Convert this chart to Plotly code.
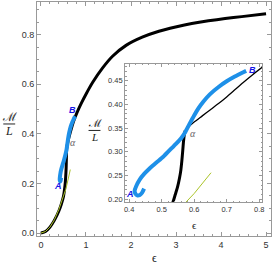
import plotly.graph_objects as go

# main black curve
main_x = [0, 0.1, 0.2, 0.3, 0.4, 0.45, 0.5, 0.534, 0.549, 0.559, 0.565, 0.57, 0.585, 0.6, 0.65, 0.7, 0.75, 0.8, 0.9, 1.0, 1.15, 1.37, 1.59, 1.89, 2.25, 2.62, 2.99, 3.35, 3.72, 4.09, 4.46, 5.0]
main_y = [0, 0.006, 0.024, 0.052, 0.09, 0.115, 0.148, 0.192, 0.226, 0.261, 0.303, 0.338, 0.356, 0.37, 0.405, 0.437, 0.463, 0.486, 0.525, 0.56, 0.608, 0.666, 0.713, 0.757, 0.79, 0.814, 0.831, 0.845, 0.856, 0.865, 0.873, 0.885]

# inset black: thick branch and thin branch
thick_x = [0.53, 0.534, 0.542, 0.549, 0.555, 0.559, 0.562, 0.565, 0.567, 0.57, 0.573]
thick_y = [0.185, 0.192, 0.21, 0.226, 0.245, 0.261, 0.28, 0.303, 0.32, 0.338, 0.345]
thin_x = [0.573, 0.585, 0.6, 0.625, 0.65, 0.675, 0.7, 0.725, 0.75, 0.78, 0.812]
thin_y = [0.345, 0.354, 0.363, 0.376, 0.389, 0.402, 0.416, 0.431, 0.446, 0.463, 0.48]

# blue curve (A -> B)
blue_x = [0.446, 0.44, 0.433, 0.425, 0.419, 0.417, 0.422, 0.433, 0.447, 0.463, 0.483, 0.504, 0.524, 0.544, 0.56, 0.572, 0.585, 0.6, 0.613, 0.628, 0.649, 0.675, 0.70, 0.725, 0.751, 0.76]
blue_y = [0.2225, 0.214, 0.209, 0.208, 0.212, 0.218, 0.228, 0.242, 0.254, 0.265, 0.277, 0.289, 0.303, 0.317, 0.329, 0.341, 0.358, 0.377, 0.392, 0.406, 0.422, 0.437, 0.449, 0.459, 0.468, 0.471]

# yellow-green approximation
yel_x = [0, 0.1, 0.2, 0.3, 0.4, 0.5, 0.55, 0.575, 0.6, 0.652]
yel_y = [0, 0.006, 0.024, 0.054, 0.096, 0.145, 0.176, 0.194, 0.212, 0.256]

main_xticks = [0, 1, 2, 3, 4, 5]
main_yticks = [0.0, 0.2, 0.4, 0.6, 0.8]
inset_xticks = [0.4, 0.5, 0.6, 0.7, 0.8]
inset_yticks = [0.20, 0.25, 0.30, 0.35, 0.40, 0.45]

BLUE = "rgb(30,144,232)"
YEL = "rgb(170,195,40)"

fig = go.Figure()
# main
fig.add_trace(go.Scatter(x=main_x, y=main_y, mode="lines", line=dict(color="black", width=3, shape="spline", smoothing=0.5), xaxis="x", yaxis="y"))
fig.add_trace(go.Scatter(x=blue_x, y=blue_y, mode="lines", line=dict(color=BLUE, width=4, shape="spline", smoothing=0.6), xaxis="x", yaxis="y"))
fig.add_trace(go.Scatter(x=yel_x, y=yel_y, mode="lines", line=dict(color=YEL, width=1), xaxis="x", yaxis="y"))
# inset
fig.add_trace(go.Scatter(x=thick_x, y=thick_y, mode="lines", line=dict(color="black", width=3, shape="spline", smoothing=0.5), xaxis="x2", yaxis="y2"))
fig.add_trace(go.Scatter(x=thin_x, y=thin_y, mode="lines", line=dict(color="black", width=1.3, shape="spline", smoothing=0.5), xaxis="x2", yaxis="y2"))
fig.add_trace(go.Scatter(x=blue_x, y=blue_y, mode="lines", line=dict(color=BLUE, width=4, shape="spline", smoothing=0.6), xaxis="x2", yaxis="y2"))
fig.add_trace(go.Scatter(x=yel_x, y=yel_y, mode="lines", line=dict(color=YEL, width=1), xaxis="x2", yaxis="y2"))

tickfont_main = dict(family="Liberation Sans, Arial", size=9, color="#333")
tickfont_in = dict(family="Liberation Sans, Arial", size=7.5, color="#333")
axcommon = dict(showgrid=False, zeroline=False, showline=True, linecolor="#999", linewidth=1,
                mirror="allticks", ticks="inside", tickcolor="#999")

fig.update_layout(
    width=274, height=268, showlegend=False,
    margin=dict(l=37, r=1, t=1, b=32),
    paper_bgcolor="white", plot_bgcolor="white",
    xaxis=dict(range=[-0.088, 5.11], tickvals=main_xticks, ticktext=[str(v) for v in main_xticks],
               ticklen=4, tickfont=tickfont_main, domain=[0, 1],
               minor=dict(ticks="inside", ticklen=2, dtick=0.2, tickcolor="#999"), **axcommon),
    yaxis=dict(range=[-0.012, 0.932], tickvals=main_yticks, ticktext=["%.1f" % v for v in main_yticks],
               ticklen=4, tickfont=tickfont_main, domain=[0, 1],
               minor=dict(ticks="inside", ticklen=2, dtick=0.05, tickcolor="#999"), **axcommon),
    xaxis2=dict(range=[0.388, 0.809], tickvals=inset_xticks, ticktext=["%.1f" % v for v in inset_xticks],
                ticklen=3, tickfont=tickfont_in, domain=[0.377, 0.962], anchor="y2",
                minor=dict(ticks="inside", ticklen=1.5, dtick=0.02, tickcolor="#999"), **axcommon),
    yaxis2=dict(range=[0.194, 0.486], tickvals=inset_yticks, ticktext=["%.2f" % v for v in inset_yticks],
                ticklen=3, tickfont=tickfont_in, domain=[0.145, 0.736], anchor="x2",
                minor=dict(ticks="inside", ticklen=1.5, dtick=0.01, tickcolor="#999"), **axcommon),
)

def px_x(p):
    return (p - 37) / 236.0

def px_y(p):
    return (236 - p) / 235.0

serif = "Liberation Serif, DejaVu Serif"
anns = [
    # main y label fraction
    dict(x=px_x(9), y=px_y(116), text="ℳ", font=dict(family=serif, size=12, color="#222")),
    dict(x=px_x(9), y=px_y(131), text="<i>L</i>", font=dict(family=serif, size=12, color="#222")),
    # inset y label fraction
    dict(x=px_x(95), y=px_y(123), text="ℳ", font=dict(family=serif, size=11, color="#222")),
    dict(x=px_x(95), y=px_y(137), text="<i>L</i>", font=dict(family=serif, size=11, color="#222")),
    # x labels
    dict(x=px_x(155), y=px_y(258), text="ϵ", font=dict(family=serif, size=12, color="#222")),
    dict(x=px_x(196), y=px_y(225), text="ϵ", font=dict(family=serif, size=11, color="#222")),
    # point labels main
    dict(x=px_x(58), y=px_y(186), text="<b><i>A</i></b>", font=dict(family="Liberation Sans", size=9, color="rgb(20,20,230)")),
    dict(x=px_x(73), y=px_y(109), text="<b><i>B</i></b>", font=dict(family="Liberation Sans", size=9, color="rgb(20,20,230)")),
    dict(x=px_x(73), y=px_y(142), text="<i>α</i>", font=dict(family=serif, size=10, color="#666")),
    # point labels inset
    dict(x=px_x(131), y=px_y(194), text="<b><i>A</i></b>", font=dict(family="Liberation Sans", size=9, color="rgb(20,20,230)")),
    dict(x=px_x(254), y=px_y(69), text="<b><i>B</i></b>", font=dict(family="Liberation Sans", size=9, color="rgb(20,20,230)")),
    dict(x=px_x(194), y=px_y(133), text="<i>α</i>", font=dict(family=serif, size=10, color="#666")),
]
for a in anns:
    a.update(xref="paper", yref="paper", showarrow=False, xanchor="center", yanchor="middle")
fig.update_layout(annotations=anns)

fig.add_shape(type="line", xref="paper", yref="paper", x0=px_x(3), x1=px_x(15), y0=px_y(123.5), y1=px_y(123.5),
              line=dict(color="#222", width=1))
fig.add_shape(type="line", xref="paper", yref="paper", x0=px_x(89), x1=px_x(101), y0=px_y(130), y1=px_y(130),
              line=dict(color="#222", width=1))

fig.write_html("out.html", config={"displayModeBar": False},
               post_script="document.body.style.margin='0';document.body.style.overflow='hidden';")
